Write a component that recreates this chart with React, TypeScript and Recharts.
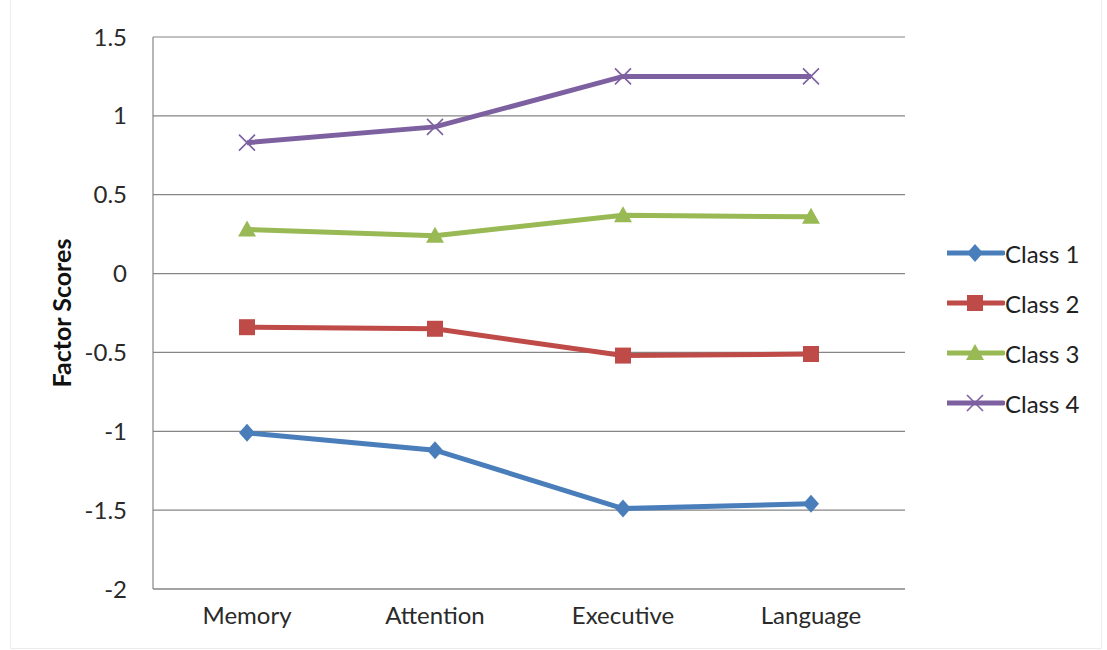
import React from 'react';
import { LineChart, Line, XAxis, YAxis, CartesianGrid, Legend } from 'recharts';

const domains = ['Memory', 'Attention', 'Executive', 'Language'];
const class1 = [-1.01, -1.12, -1.49, -1.46];
const class2 = [-0.34, -0.35, -0.52, -0.51];
const class3 = [0.28, 0.24, 0.37, 0.36];
const class4 = [0.83, 0.93, 1.25, 1.25];
const yTicks = [-2, -1.5, -1, -0.5, 0, 0.5, 1, 1.5];

const data = domains.map((d, i) => ({
  domain: d,
  c1: class1[i],
  c2: class2[i],
  c3: class3[i],
  c4: class4[i],
}));

const series = [
  { key: 'c1', name: 'Class 1', color: '#4A7EBB', shape: 'diamond' },
  { key: 'c2', name: 'Class 2', color: '#BE4B48', shape: 'square' },
  { key: 'c3', name: 'Class 3', color: '#98B954', shape: 'triangle' },
  { key: 'c4', name: 'Class 4', color: '#7D60A0', shape: 'cross' },
];

const FONT = 'Lato, "Open Sans", sans-serif';
const GRID = '#868686';

const Marker = ({ shape, x, y, color }: { shape: string; x: number; y: number; color: string }) => {
  if (shape === 'diamond')
    return <path d={`M${x},${y - 9}L${x + 8},${y}L${x},${y + 9}L${x - 8},${y}Z`} fill={color} />;
  if (shape === 'square') return <rect x={x - 8} y={y - 8} width={16} height={16} fill={color} />;
  if (shape === 'triangle')
    return <path d={`M${x},${y - 9}L${x + 9},${y + 7}L${x - 9},${y + 7}Z`} fill={color} />;
  return (
    <path
      d={`M${x - 8},${y - 8}L${x + 8},${y + 8}M${x + 8},${y - 8}L${x - 8},${y + 8}`}
      stroke={color}
      strokeWidth={1.6}
      fill="none"
    />
  );
};

const renderLegend = () => (
  <div style={{ fontFamily: FONT, fontSize: 24, color: '#222' }}>
    {series.map((s) => (
      <div key={s.key} style={{ display: 'flex', alignItems: 'center', height: 50 }}>
        <svg width={58} height={24} style={{ display: 'block' }}>
          <line x1={0} y1={12} x2={56} y2={12} stroke={s.color} strokeWidth={5} strokeLinecap="round" />
          <Marker shape={s.shape} x={28} y={12} color={s.color} />
        </svg>
        <span style={{ marginLeft: 0 }}>{s.name}</span>
      </div>
    ))}
  </div>
);

const YLabel = (props: any) => {
  const { viewBox } = props;
  const cx = 61;
  const cy = viewBox.y + viewBox.height / 2;
  return (
    <text
      x={cx}
      y={cy}
      transform={`rotate(-90, ${cx}, ${cy})`}
      textAnchor="middle"
      dominantBaseline="central"
      fontFamily={FONT}
      fontSize={25}
      fontWeight="bold"
      fill="#111"
    >
      Factor Scores
    </text>
  );
};

export default function App() {
  return (
    <div style={{ position: 'absolute', left: 0, top: 0, width: 1107, height: 650, background: '#fff' }}>
      <div
        style={{
          position: 'absolute',
          left: 10,
          top: 0,
          width: 1090,
          height: 648,
          borderLeft: '1px solid #ececec',
          borderRight: '1px solid #ececec',
          borderBottom: '1px solid #ececec',
        }}
      />
      <LineChart
        width={1107}
        height={650}
        data={data}
        margin={{ top: 37, right: 202, bottom: 21, left: 0 }}
        style={{ position: 'absolute', left: 0, top: 0 }}
      >
        <CartesianGrid vertical={false} stroke={GRID} strokeWidth={1.2} />
        <XAxis
          dataKey="domain"
          height={40}
          padding={{ left: 94, right: 94 }}
          axisLine={{ stroke: GRID, strokeWidth: 1.2 }}
          tickLine={false}
          tickMargin={12}
          tick={{ fontFamily: FONT, fontSize: 24, fill: '#2a2a2a' }}
        />
        <YAxis
          width={153}
          domain={[-2, 1.5]}
          ticks={yTicks}
          interval={0}
          axisLine={{ stroke: GRID, strokeWidth: 1.2 }}
          tickLine={false}
          tickMargin={20}
          tick={{ fontFamily: FONT, fontSize: 24, fill: '#2a2a2a' }}
          label={<YLabel />}
        />
        <Legend
          layout="vertical"
          align="center"
          verticalAlign="middle"
          content={renderLegend}
          wrapperStyle={{ left: 947, top: 228, width: 160 }}
        />
        {series.map((s) => (
          <Line
            key={s.key}
            dataKey={s.key}
            name={s.name}
            type="linear"
            stroke={s.color}
            strokeWidth={5}
            isAnimationActive={false}
            dot={(p: any) => (
              <Marker key={`${s.key}-${p.index}`} shape={s.shape} x={p.cx} y={p.cy} color={s.color} />
            )}
            activeDot={false}
          />
        ))}
      </LineChart>
    </div>
  );
}
